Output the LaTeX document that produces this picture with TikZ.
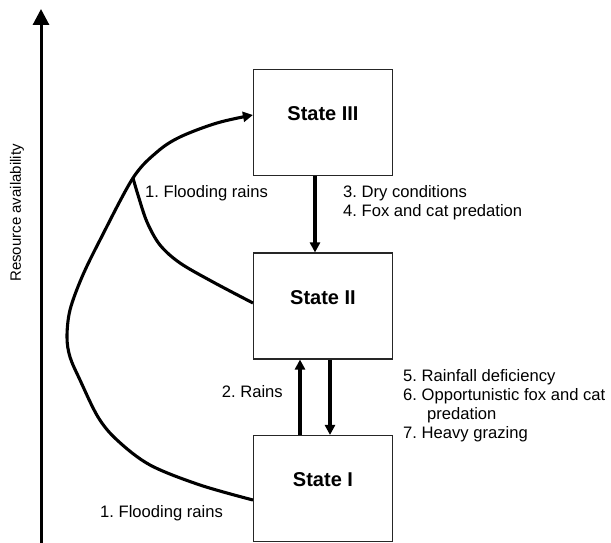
\documentclass[tikz,border=0pt]{standalone}
\usepackage{fontspec}
\setmainfont{Liberation Sans}
\usetikzlibrary{arrows.meta}
\begin{document}
\frenchspacing
\begin{tikzpicture}[x=1pt,y=-1pt,
  statebox/.style={draw=black!85, line width=1.1pt, minimum width=139pt, minimum height=106pt, inner sep=0pt, font=\fontsize{20}{24}\selectfont\bfseries},
  lbl/.style={font=\fontsize{16.6}{19}\selectfont, inner sep=0pt, align=left},
  conn/.style={line width=3.1pt, -{Triangle[length=10pt,width=10pt]}},
  curve/.style={line width=3.1pt, line join=round}]
\useasboundingbox (0,0) rectangle (611,543);

% axis
\coordinate (axb) at (41,543);
\coordinate (axt) at (41,9);
\draw[line width=3pt, -{Triangle[length=16pt,width=16pt]}] (axb) -- (axt);
\node[lbl, font=\fontsize{15}{18}\selectfont, rotate=90] (axl) at (17,213) {Resource availability};

% states
\node[statebox] (s3) at (323,122.5) {\raisebox{2pt}[0pt][0pt]{State III}};
\node[statebox] (s2) at (323,306) {\raisebox{2pt}[0pt][0pt]{State II}};
\node[statebox] (s1) at (323,488.5) {\raisebox{2pt}[0pt][0pt]{State I}};

% vertical transitions
\draw[conn] ([xshift=-8pt]s3.south) -- ([xshift=-8pt]s2.north);
\draw[conn] ([xshift=-23pt]s1.north) -- ([xshift=-23pt]s2.south);
\draw[conn] ([xshift=7pt]s2.south) -- ([xshift=7pt]s1.north);

% flooding rains curves
\coordinate (a) at ([yshift=-11.5pt]s1.west);
\coordinate (b) at ([yshift=7.5pt]s3.west);
\coordinate (c) at ([yshift=3pt]s2.west);
\coordinate (br) at (133,178);
\draw[curve, -{Triangle[length=10pt,width=10pt]}] plot[smooth, tension=0.55] coordinates {(a) (200,485) (150,465) (117,440) (98,417) (80,380) (70,357) (67,337) (70,310) (82,277) (100,240) (br) (157,152) (180,137) (217,123) (b)};
\draw[curve] plot[smooth, tension=0.55] coordinates {(br) (138,195) (147,222) (160,245) (180,263) (213,282) (c)};

% labels
\node[lbl, anchor=west] (l1a) at (145,193) {1. Flooding rains};
\node[lbl, anchor=west] (l34) at (343,202.5) {3. Dry conditions\\4. Fox and cat predation};
\node[lbl, anchor=east] (l2) at (283,392) {2. Rains};
\node[lbl, anchor=west] (l567) at (403,405.5) {5. Rainfall deficiency\\6. Opportunistic fox and cat\\\hspace*{24pt}predation\\7. Heavy grazing};
\node[lbl, anchor=west] (l1b) at (100,513) {1. Flooding rains};
\end{tikzpicture}
\end{document}
